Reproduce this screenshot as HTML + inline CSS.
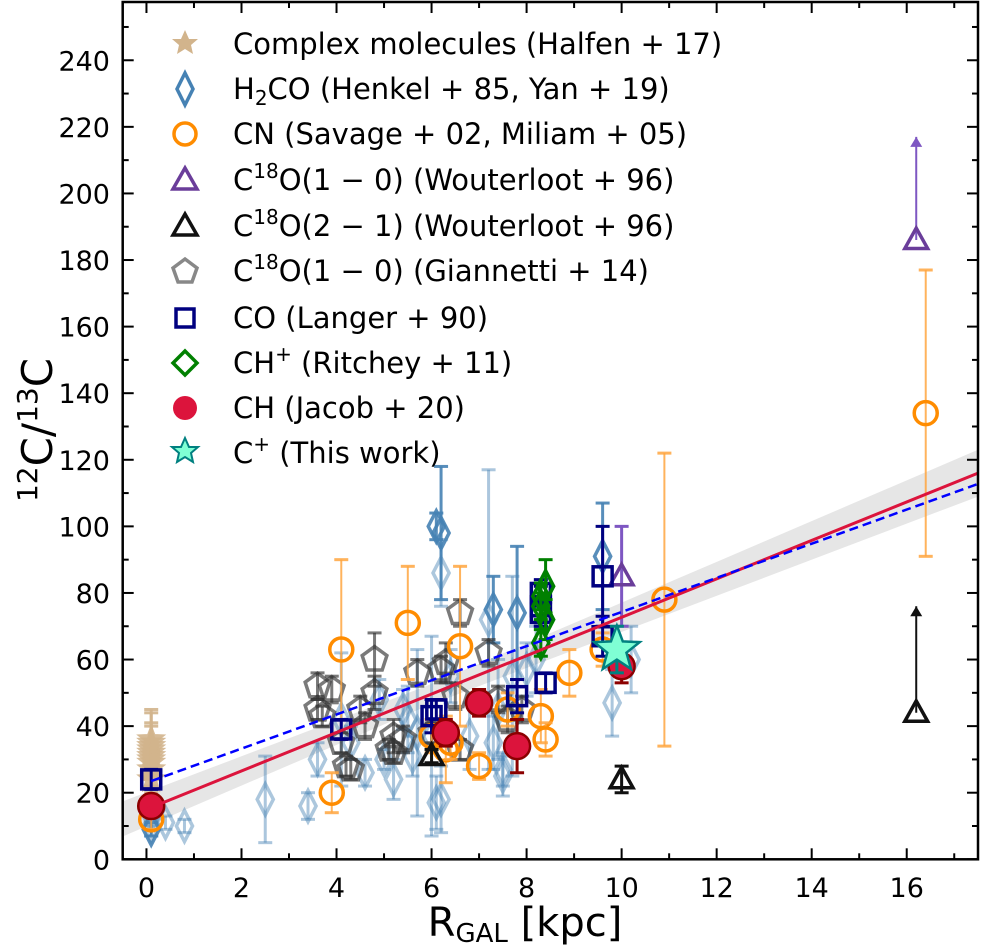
<!DOCTYPE html>
<html><head><meta charset="utf-8"><style>
body{margin:0;background:#fff}
svg{display:block;font-family:"DejaVu Sans","Liberation Sans",sans-serif}
</style></head><body>
<svg id="c" width="983" height="948" viewBox="0 0 983 948"></svg>
<script>
const xTicks=[0,2,4,6,8,10,12,14,16];
const yTicks=[0,20,40,60,80,100,120,140,160,180,200,220,240];
const cmX=[0.1,0.1,0.1,0.1,0.1,0.1,0.1,0.1,0.1,0.1];
const cmY=[24,27,29,30,31,32,33,34,35,36];
const cmE=[4,5,4,6,5,4,8,6,10,8];
const hX=[0.1,0.1,0.4,0.8,2.5,3.4,3.6,4.1,4.3,4.6,5.0,5.2,5.5,5.6,5.7,6.0,6.1,6.2,6.2,6.4,6.8,7.2,7.7,7.5,7.5,7.4,8.0,8.2,9.8,10.2,7.3,4.9,5.4];
const hY=[10,13,11,10,18,16,30,42,35,26,30,24,42,31,38,37,17,18,86,55,37,72,55,25,27,45,57,60,47,60,35,48,45];
const hE=[3,3,2,2,13,4,5,20,5,4,3,6,10,6,25,30,8,10,10,8,10,45,30,6,5,15,8,10,10,10,8,6,6];
const hdX=[0.1,6.1,6.2,7.3,7.8,9.6];
const hdY=[9,100,98,75,74,91];
const hdE=[2,4,20,10,20,16];
const cnX=[0.1,3.9,4.1,5.5,6.6,6.0,6.3,7.0,7.6,8.3,8.4,8.9,9.6,10.9,16.4,6.4];
const cnY=[12,20,63,71,64,37,33,28,45,43,36,56,63,78,134,35];
const cnE=[3,6,27,17,24,5,10,4,5,8,5,7,5,44,43,5];
const w10X=[10.0,16.2];
const w10Y=[85,186];
const w10E=[15,31];
const w21X=[6.0,10.0,16.2];
const w21Y=[31,24,44];
const w21E=[2,4,32];
const gX=[3.6,3.9,3.7,3.6,4.1,4.2,4.3,4.5,4.8,4.8,5.2,5.1,5.2,5.7,6.0,6.2,6.3,6.5,6.6,6.6,7.2,7.4,7.6,7.9,4.6,5.4];
const gY=[52,51,43,45,35,28,27,45,60,50,37,33,32,56,38,57,59,49,74,33,62,48,42,45,40,36];
const gE=[4,4,3,3,3,3,3,4,8,5,5,3,3,4,3,4,6,4,4,3,4,4,4,4,4,4];
const coX=[0.1,4.1,6.0,6.1,7.8,8.3,8.3,8.3,8.4,9.6,9.6];
const coY=[24,39,43,45,49,74,76,80,53,85,67];
const coE=[3,3,5,3,5,4,6,4,3,15,6];
const chpX=[8.3,8.4,8.3,8.4,8.3];
const chpY=[65,72,76,82,79];
const chpE=[4,6,4,8,4];
const chX=[0.1,6.3,7.0,7.8,10.0];
const chY=[16,38,47,34,58];
const chE=[3,4,4,8,5];
const cpX=[9.9];
const cpY=[63];
const cpE=[7];
const fitR=[15,5.77];
const fitB=[23.5,5.1];

const svg=document.getElementById('c');
const NS='http://www.w3.org/2000/svg';
const L=122.7,R=978,T=2,B=859.3,xmin=-0.5,xmax=17.5,ymax=257.5;
const X=v=>L+(v-xmin)/(xmax-xmin)*(R-L);
const Y=v=>B-v/ymax*(B-T);
function el(t,a,p){const e=document.createElementNS(NS,t);for(const k in a)e.setAttribute(k,a[k]);(p||svg).appendChild(e);return e;}
const clip=el('clipPath',{id:'cp'});el('rect',{x:L,y:T,width:R-L,height:B-T},clip);
const plot=el('g',{'clip-path':'url(#cp)'});


let pts=[];
for(let i=0;i<=20;i++){const x=xmin+i*(xmax-xmin)/20;pts.push([X(x),Y(fitR[0]+fitR[1]*x+3+0.35*Math.abs(x-6))]);}
for(let i=20;i>=0;i--){const x=xmin+i*(xmax-xmin)/20;pts.push([X(x),Y(fitR[0]+fitR[1]*x-3-0.35*Math.abs(x-6))]);}
const band=el('polygon',{points:pts.map(p=>p.join(',')).join(' '),fill:'#e6e6e6'},plot);



function marker(g,shape,x,y,o){
  const cx=X(x),cy=Y(y);let m;
  const st={fill:o.fill||'none',stroke:o.stroke,'stroke-width':o.sw||3.5,opacity:o.op||1};
  if(shape==='circle'){m=el('circle',Object.assign({cx,cy,r:o.s||12},st),g);}
  else if(shape==='square'){const s=o.s||9.5;m=el('rect',Object.assign({x:cx-s,y:cy-s,width:2*s,height:2*s},st),g);}
  else{let p;const s=o.s||13;
    if(shape==='diamond')p=[[0,-s*1.2],[s*0.62,0],[0,s*1.2],[-s*0.62,0]];
    else if(shape==='tri')p=[[0,-s],[s*0.95,s*0.7],[-s*0.95,s*0.7]];
    else if(shape==='pent'){p=[];for(let i=0;i<5;i++){const a=-Math.PI/2+i*2*Math.PI/5;p.push([s*Math.cos(a),s*Math.sin(a)]);}}
    else if(shape==='star'){p=[];for(let i=0;i<10;i++){const a=-Math.PI/2+i*Math.PI/5,r=i%2?s*0.42:s;p.push([r*Math.cos(a),r*Math.sin(a)]);}}
    m=el('polygon',Object.assign({points:p.map(q=>(cx+q[0])+','+(cy+q[1])).join(' ')},st),g);}
  return m;
}
function series(name,xs,ys,es,shape,o){
  const g=el('g',{},plot);
  
  
  for(let i=0;i<xs.length;i++){
    const cx=X(xs[i]),up=o.upper&&o.upper[i];
    const ec=o.ecol||o.stroke,eo=o.eop||o.op||1;
    if(up){el('line',{x1:cx,x2:cx,y1:Y(ys[i]),y2:Y(ys[i]+es[i]),stroke:ec,'stroke-width':2},g);
      el('polygon',{points:`${cx-6},${Y(ys[i]+es[i])+10} ${cx+6},${Y(ys[i]+es[i])+10} ${cx},${Y(ys[i]+es[i])}`,fill:ec},g);}
    else{const y1=Y(ys[i]-es[i]),y2=Y(ys[i]+es[i]);
      el('line',{x1:cx,x2:cx,y1,y2,stroke:ec,'stroke-width':o.ew||3,opacity:eo},g);
      el('line',{x1:cx-7,x2:cx+7,y1,y2:y1,stroke:ec,'stroke-width':3,opacity:eo},g);
      el('line',{x1:cx-7,x2:cx+7,y1:y2,y2:y2,stroke:ec,'stroke-width':3,opacity:eo},g);}
    const m=marker(g,shape,xs[i],ys[i],o);
    
    
  }
}
series('complex-molecules',cmX,cmY,cmE,'star',{stroke:'#d2b48c',fill:'#d2b48c',s:13,op:0.9,sw:2});
series('h2co-light',hX,hY,hE,'diamond',{stroke:'#4682b4',op:0.45,s:13});
series('h2co-dark',hdX,hdY,hdE,'diamond',{stroke:'#4682b4',op:0.9,s:13});
series('giannetti-c18o',gX,gY,gE,'pent',{stroke:'#333',op:0.65,s:13});
series('cn',cnX,cnY,cnE,'circle',{stroke:'#ff8c00',ecol:'#ffa640',eop:0.85,s:11.5,ew:2});
series('c18o-1-0',w10X,w10Y,w10E,'tri',{stroke:'#6a3d9a',upper:[0,1],ecol:'#7e57c2',s:12});
series('c18o-2-1',w21X,w21Y,w21E,'tri',{stroke:'#111',upper:[0,0,1],s:12});
series('co-langer',coX,coY,coE,'square',{stroke:'#000080',s:9.5});
series('ch-plus',chpX,chpY,chpE,'diamond',{stroke:'#008000',s:13});
series('ch-jacob',chX,chY,chE,'circle',{stroke:'#8b0000',fill:'#dc143c',ecol:'#8b0000',s:13,sw:2.5});
series('c-plus-this-work',cpX,cpY,cpE,'star',{stroke:'#008080',fill:'#7fffd4',ecol:'#008080',s:24,sw:2.5});
const lr=el('line',{x1:X(0),y1:Y(fitR[0]),x2:X(xmax),y2:Y(fitR[0]+fitR[1]*xmax),stroke:'#dc143c','stroke-width':3},plot);


const lb=el('line',{x1:X(0.1),y1:Y(fitB[0]),x2:X(xmax),y2:Y(fitB[0]+fitB[1]*xmax),stroke:'#0000ff','stroke-width':2.5,'stroke-dasharray':'9,5'},plot);



const fr=el('rect',{x:L,y:T,width:R-L,height:B-T,fill:'none',stroke:'#000','stroke-width':2.5});


const ax=el('g',{stroke:'#000','stroke-width':2});
for(let v=0;v<=17;v++){const x=X(v),len=v%2?6:11;el('line',{x1:x,x2:x,y1:B,y2:B-len},ax);el('line',{x1:x,x2:x,y1:T,y2:T+len},ax);}
for(let v=0;v<=250;v+=10){const y=Y(v),len=v%20?6:11;el('line',{x1:L,x2:L+len,y1:y,y2:y},ax);el('line',{x1:R,x2:R-len,y1:y,y2:y},ax);}
xTicks.forEach(v=>{const t=el('text',{x:X(v),y:897,'font-size':27,'text-anchor':'middle'});t.textContent=v;
 });
yTicks.forEach(v=>{const t=el('text',{x:110,y:Y(v)+10,'font-size':27,'text-anchor':'end'});t.textContent=v;
 });
</script>
<svg style="position:absolute;left:0;top:0" width="983" height="948">
<g><text x="525" y="936" font-size="40" text-anchor="middle" font-family="DejaVu Sans,sans-serif">R<tspan font-size="26" dy="6">GAL</tspan><tspan dy="-6"> [kpc]</tspan></text></g>
<g><text transform="translate(52,430) rotate(-90)" font-size="42" text-anchor="middle" font-family="DejaVu Sans,sans-serif"><tspan font-size="28" dy="-15">12</tspan><tspan dy="15">C/</tspan><tspan font-size="28" dy="-15">13</tspan><tspan dy="15">C</tspan></text></g>
<g font-size="29" font-family="DejaVu Sans,sans-serif">
<polygon points="185,30 189,39 198,39 191,45 193,54 185,49 177,54 179,45 172,39 181,39" fill="#d2b48c"/>
<text x="233" y="54">Complex molecules (Halfen + 17)</text>
<polygon points="185,73 193,89 185,105 177,89" fill="none" stroke="#4682b4" stroke-width="3.5"/>
<text x="233" y="99">H<tspan font-size="20" dy="6">2</tspan><tspan dy="-6">CO (Henkel + 85, Yan + 19)</tspan></text>
<circle cx="185" cy="134" r="11" fill="none" stroke="#ff8c00" stroke-width="3.5"/>
<text x="233" y="144">CN (Savage + 02, Miliam + 05)</text>
<polygon points="185,168 197,189 173,189" fill="none" stroke="#6a3d9a" stroke-width="3.5"/>
<text x="233" y="190">C<tspan font-size="20" dy="-12">18</tspan><tspan dy="12">O(1 − 0) (Wouterloot + 96)</tspan></text>
<polygon points="185,214 197,235 173,235" fill="none" stroke="#111" stroke-width="3.5"/>
<text x="233" y="236">C<tspan font-size="20" dy="-12">18</tspan><tspan dy="12">O(2 − 1) (Wouterloot + 96)</tspan></text>
<polygon points="185,259 197,268 192,282 178,282 173,268" fill="none" stroke="#888" stroke-width="3.5"/>
<text x="233" y="281">C<tspan font-size="20" dy="-12">18</tspan><tspan dy="12">O(1 − 0) (Giannetti + 14)</tspan></text>
<rect x="176" y="309" width="18" height="18" fill="none" stroke="#000080" stroke-width="3.5"/>
<text x="233" y="328">CO (Langer + 90)</text>
<polygon points="185,351 197,363 185,375 173,363" fill="none" stroke="#008000" stroke-width="3.5"/>
<text x="233" y="373">CH<tspan font-size="20" dy="-12">+</tspan><tspan dy="12">  (Ritchey + 11)</tspan></text>
<circle cx="185" cy="408" r="12" fill="#dc143c"/>
<text x="233" y="418">CH (Jacob + 20)</text>
<polygon points="185,438 189,447 198,447 191,453 193,462 185,457 177,462 179,453 172,447 181,447" fill="#7fffd4" stroke="#008080" stroke-width="2"/>
<text x="233" y="463">C<tspan font-size="20" dy="-12">+</tspan><tspan dy="12">  (This work)</tspan></text>
</g>
</svg>
</body></html>
